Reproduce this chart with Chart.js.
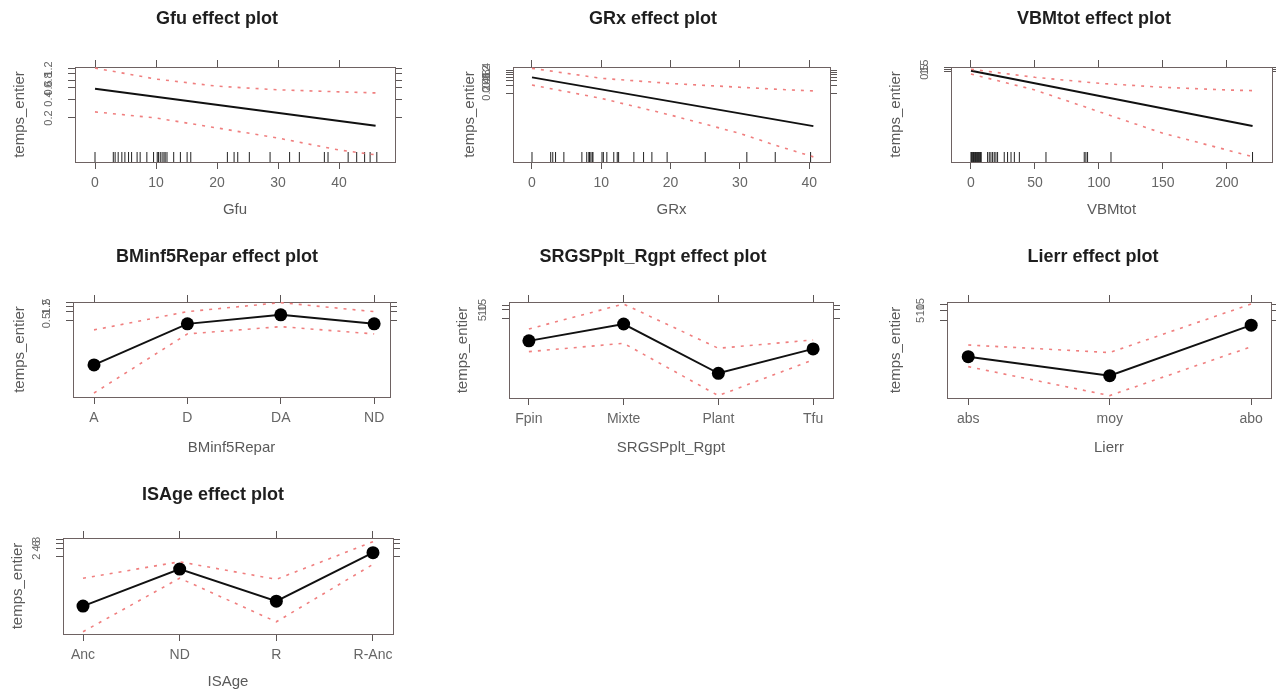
<!DOCTYPE html>
<html>
<head>
<meta charset="utf-8">
<title>Effect plots – temps_entier</title>
<script src="https://cdn.jsdelivr.net/npm/chart.js@4/dist/chart.umd.min.js"></script>
<style>
  html, body { margin: 0; padding: 0; background: #fff; overflow: hidden; width: 1276px; height: 691px; }
  .panel { position: absolute; }
  .panel canvas { display: block; }
</style>
</head>
<body>
<script>
// ---------- Gfu (continuous predictor) ----------
const gfuFitX   = [0, 46];
const gfuFit    = [0.58, 0.15];
const gfuBandX  = [0, 10, 20, 30, 40, 46];
const gfuUpper  = [1.24, 0.83, 0.64, 0.56, 0.52, 0.50];
const gfuLower  = [0.25, 0.20, 0.139, 0.096, 0.062, 0.052];
const gfuRug    = [0, 3.0, 3.3, 3.8, 4.4, 4.9, 5.5, 6.0, 6.9, 7.4, 8.5, 9.6, 10.2, 10.4, 10.7, 11.0,
                   11.3, 11.5, 11.8, 12.9, 14.0, 15.1, 15.7, 21.7, 22.8, 23.4, 25.3, 28.7, 31.9,
                   33.5, 37.6, 38.2, 41.5, 42.9, 44.2, 45.1, 46.2];
const gfuXTicks = [0, 10, 20, 30, 40];
const gfuYTicks = [0.2, 0.4, 0.6, 0.8, 1, 1.2];

// ---------- GRx (continuous predictor) ----------
const grxFitX   = [0, 40.6];
const grxFit    = [0.78, 0.0113];
const grxBandX  = [0, 10, 20, 30, 35, 40.6];
const grxUpper  = [1.71, 0.72, 0.46, 0.33, 0.28, 0.24];
const grxLower  = [0.40, 0.126, 0.0295, 0.0060, 0.0022, 0.00078];
const grxRug    = [0, 2.7, 3.0, 3.4, 4.6, 7.2, 7.9, 8.2, 8.3, 8.5, 8.7, 8.8, 10.1, 10.3, 10.8,
                   11.8, 12.3, 12.5, 14.7, 16.1, 17.3, 19.5, 25.0, 31.0, 35.1, 40.2];
const grxXTicks = [0, 10, 20, 30, 40];
const grxYTicks = [0.2, 0.4, 0.6, 0.8, 1, 1.2, 1.4];

// ---------- VBMtot (continuous predictor) ----------
const vbmFitX   = [0, 220];
const vbmFit    = [0.68, 1.75e-6];
const vbmBandX  = [0, 50, 100, 150, 200, 220];
const vbmUpper  = [0.94, 0.146, 0.036, 0.0142, 0.0076, 0.0065];
const vbmLower  = [0.31, 0.0076, 4.9e-5, 3.2e-7, 6.6e-9, 1.4e-9];
const vbmRug    = [0, 0.5, 1, 1.5, 2, 2.5, 3, 3.5, 4, 4.5, 5, 5.5, 6, 6.5, 7, 7.5, 8,
                   13.0, 14.3, 15.6, 16.9, 18.2, 19.5, 20.8, 26, 28.6, 31.3, 33.9, 37.8,
                   58.6, 88.5, 89.8, 91.1, 109.4, 220];
const vbmXTicks = [0, 50, 100, 150, 200];
const vbmYTicks = [0.5, 1, 1.5];

// ---------- BMinf5Repar (factor) ----------
const bmCats   = ['A', 'D', 'DA', 'ND'];
const bmFit    = [0.0165, 0.39, 0.78, 0.39];
const bmUpper  = [0.245, 1.0, 2.0, 1.0];
const bmLower  = [0.0019, 0.18, 0.315, 0.18];
const bmYTicks = [0.5, 1, 1.5, 2];

// ---------- SRGSPplt_Rgpt (factor) ----------
const srCats   = ['Fpin', 'Mixte', 'Plant', 'Tfu'];
const srFit    = [0.76, 3.1, 0.051, 0.39];
const srUpper  = [2.05, 16.4, 0.41, 0.82];
const srLower  = [0.31, 0.62, 0.0079, 0.155];
const srYTicks = [5, 10, 15];

// ---------- Lierr (factor) ----------
const liCats   = ['abs', 'moy', 'abo'];
const liFit    = [0.39, 0.104, 3.5];
const liUpper  = [0.88, 0.52, 15.2];
const liLower  = [0.195, 0.026, 0.78];
const liYTicks = [5, 10, 15];

// ---------- ISAge (factor) ----------
const isCats   = ['Anc', 'ND', 'R', 'R-Anc'];
const isFit    = [0.034, 0.72, 0.051, 2.8];
const isUpper  = [0.34, 1.32, 0.31, 6.9];
const isLower  = [0.0041, 0.34, 0.0093, 1.07];
const isYTicks = [2, 4, 6, 8];

const RESPONSE = 'temps_entier';
const FONT = '"Liberation Sans", Arial, Helvetica, sans-serif';

const idx = (arr) => arr.map((_, i) => i);

// Panel placement on the page (box = plotting region) and axis ranges.
const panels = [
  { name: 'Gfu', kind: 'num', box: {L: 75, T: 67, R: 395, B: 162}, titleX: 217, titleY: 19, yTitleX: 20, xTitleY: 210,
    xMin: -3.28, xMax: 49.18, yMin: 0.04, yMax: 1.29,
    fitX: gfuFitX, fit: gfuFit, bandX: gfuBandX, upper: gfuUpper, lower: gfuLower, rug: gfuRug,
    xTicks: gfuXTicks, yTicks: gfuYTicks },
  { name: 'GRx', kind: 'num', box: {L: 513, T: 67, R: 830, B: 162}, titleX: 653, titleY: 19, yTitleX: 470, xTitleY: 210,
    xMin: -2.74, xMax: 43.0, yMin: 0.0005, yMax: 1.92,
    fitX: grxFitX, fit: grxFit, bandX: grxBandX, upper: grxUpper, lower: grxLower, rug: grxRug,
    xTicks: grxXTicks, yTicks: grxYTicks },
  { name: 'VBMtot', kind: 'num', box: {L: 951, T: 67, R: 1272, B: 162}, titleX: 1094, titleY: 19, yTitleX: 896, xTitleY: 210,
    xMin: -15.6, xMax: 235.2, yMin: 4e-10, yMax: 1.6,
    fitX: vbmFitX, fit: vbmFit, bandX: vbmBandX, upper: vbmUpper, lower: vbmLower, rug: vbmRug,
    xTicks: vbmXTicks, yTicks: vbmYTicks },
  { name: 'BMinf5Repar', kind: 'cat', box: {L: 73, T: 302, R: 390, B: 397}, titleX: 217, titleY: 257, yTitleX: 20, xTitleY: 448,
    xMin: -0.225, xMax: 3.17, yMin: 0.0014, yMax: 2.1,
    cats: bmCats, fit: bmFit, upper: bmUpper, lower: bmLower, yTicks: bmYTicks },
  { name: 'SRGSPplt_Rgpt', kind: 'cat', box: {L: 509, T: 302, R: 833, B: 398}, titleX: 653, titleY: 257, yTitleX: 463, xTitleY: 448,
    xMin: -0.21, xMax: 3.21, yMin: 0.0065, yMax: 19.4,
    cats: srCats, fit: srFit, upper: srUpper, lower: srLower, yTicks: srYTicks },
  { name: 'Lierr', kind: 'cat', box: {L: 947, T: 302, R: 1271, B: 398}, titleX: 1093, titleY: 257, yTitleX: 896, xTitleY: 448,
    xMin: -0.15, xMax: 2.14, yMin: 0.022, yMax: 17.5,
    cats: liCats, fit: liFit, upper: liUpper, lower: liLower, yTicks: liYTicks },
  { name: 'ISAge', kind: 'cat', box: {L: 63, T: 538, R: 393, B: 634}, titleX: 213, titleY: 495, yTitleX: 18, xTitleY: 682,
    xMin: -0.207, xMax: 3.207, yMin: 0.0034, yMax: 9.4,
    cats: isCats, fit: isFit, upper: isUpper, lower: isLower, yTicks: isYTicks }
];

const BOX_COLOR  = '#6e6262';
const TICK_COLOR = '#5c5656';
const CI_COLOR   = '#f07f7f';

// Rotated response-scale labels on the left axis (bottom-to-top reading, as in lattice)
const yLabelPlugin = {
  id: 'rotatedYLabels',
  afterDraw(chart) {
    const s = chart.scales.y;
    const ctx = chart.ctx;
    ctx.save();
    ctx.fillStyle = '#666';
    ctx.font = '11px ' + FONT;
    ctx.textAlign = 'center';
    ctx.textBaseline = 'middle';
    s.ticks.forEach(t => {
      const py = s.getPixelForValue(t.value);
      ctx.save();
      ctx.translate(chart.chartArea.left - 26, py);
      ctx.rotate(-Math.PI / 2);
      ctx.fillText(String(t.value), 0, 0);
      ctx.restore();
    });
    ctx.restore();
  }
};

function axisGrid() {
  return { drawOnChartArea: false, drawTicks: true, tickLength: 7, color: TICK_COLOR, tickColor: TICK_COLOR, lineWidth: 1 };
}

function makePanel(p) {
  const TITLE_SIZE = 18, TITLE_LH = TITLE_SIZE * 1.2, TITLE_PAD_TOP = 4;
  const X2H = 10;
  const axisLeft = p.yTitleX - 9;
  const rightNeeded = p.box.R + 10;
  let canvasLeft = axisLeft;
  let canvasRight = 2 * p.titleX - axisLeft;
  let yTitlePad = 0;
  if (canvasRight < rightNeeded) {
    canvasRight = rightNeeded;
    canvasLeft = 2 * p.titleX - canvasRight;
    yTitlePad = axisLeft - canvasLeft;
  }
  const canvasTop = Math.round(p.titleY - TITLE_PAD_TOP - TITLE_LH / 2);
  const xH = p.xTitleY - p.box.B + 9;
  const W = Math.round(canvasRight - canvasLeft);
  const H = Math.round(p.box.B + xH - canvasTop);
  const yW = p.box.L - canvasLeft;
  const y2W = W - (p.box.R - canvasLeft);
  const titlePadBottom = p.box.T - canvasTop - TITLE_PAD_TOP - TITLE_LH - X2H;

  const wrap = document.createElement('div');
  wrap.className = 'panel';
  wrap.style.left = canvasLeft + 'px';
  wrap.style.top = canvasTop + 'px';
  wrap.style.width = W + 'px';
  wrap.style.height = H + 'px';
  const cv = document.createElement('canvas');
  cv.width = W; cv.height = H;
  cv.style.width = W + 'px'; cv.style.height = H + 'px';
  wrap.appendChild(cv);
  document.body.appendChild(wrap);

  const isCat = p.kind === 'cat';
  const xTicks = isCat ? idx(p.cats) : p.xTicks;
  const fitX = isCat ? idx(p.cats) : p.fitX;
  const bandX = isCat ? idx(p.cats) : p.bandX;
  const pts = (xs, ys) => xs.map((x, i) => ({ x: x, y: ys[i] }));

  const datasets = [
    { label: 'lower', data: pts(bandX, p.lower), showLine: true, borderColor: CI_COLOR, borderWidth: 1.6,
      borderDash: [3, 6], pointRadius: 0, tension: 0 },
    { label: 'upper', data: pts(bandX, p.upper), showLine: true, borderColor: CI_COLOR, borderWidth: 1.6,
      borderDash: [3, 6], pointRadius: 0, tension: 0 },
    { label: 'effect', data: pts(fitX, p.fit), showLine: true, borderColor: '#111', borderWidth: 2,
      pointRadius: isCat ? 6.5 : 0, pointBackgroundColor: '#000', pointBorderColor: '#000', pointBorderWidth: 0, tension: 0 }
  ];
  if (!isCat) {
    datasets.push({ label: 'rug', data: p.rug.map(v => ({ x: v, y: p.yMin })), showLine: false,
      pointStyle: 'dash', rotation: 270, pointRadius: 10, pointBorderColor: '#222', pointBorderWidth: 1, clip: false });
  }

  const setTicks = (vals) => (scale) => { scale.ticks = vals.map(v => ({ value: v })); };

  new Chart(cv, {
    type: 'scatter',
    data: { datasets },
    options: {
      responsive: false,
      animation: false,
      events: [],
      layout: { padding: 0 },
      plugins: {
        legend: { display: false },
        tooltip: { enabled: false },
        title: {
          display: true, text: p.name + ' effect plot', color: '#1e1e1e',
          font: { family: FONT, size: TITLE_SIZE, weight: 'bold', lineHeight: 1.2 },
          padding: { top: TITLE_PAD_TOP, bottom: titlePadBottom }
        }
      },
      scales: {
        x: {
          type: 'linear', position: 'bottom', min: p.xMin, max: p.xMax,
          afterBuildTicks: setTicks(xTicks),
          ticks: {
            autoSkip: false, maxRotation: 0, minRotation: 0, padding: 5.6, color: '#666',
            font: { family: FONT, size: 14 },
            callback: (v) => isCat ? p.cats[v] : String(v)
          },
          grid: axisGrid(),
          border: { display: true, color: BOX_COLOR, width: 1 },
          title: { display: true, text: p.name, color: '#5a5a5a', font: { family: FONT, size: 15 }, padding: { top: 0, bottom: 0 } },
          afterFit: (s) => { s.height = xH; }
        },
        x2: {
          type: 'linear', position: 'top', min: p.xMin, max: p.xMax,
          afterBuildTicks: setTicks(xTicks),
          ticks: { display: false },
          grid: axisGrid(),
          border: { display: true, color: BOX_COLOR, width: 1 },
          afterFit: (s) => { s.height = X2H; }
        },
        y: {
          type: 'logarithmic', position: 'left', min: p.yMin, max: p.yMax,
          afterBuildTicks: setTicks(p.yTicks),
          ticks: { display: false },
          grid: axisGrid(),
          border: { display: true, color: BOX_COLOR, width: 1 },
          title: { display: true, text: RESPONSE, color: '#5a5a5a', font: { family: FONT, size: 15 }, padding: { top: yTitlePad, bottom: 0 } },
          afterFit: (s) => { s.width = yW; }
        },
        y2: {
          type: 'logarithmic', position: 'right', min: p.yMin, max: p.yMax,
          afterBuildTicks: setTicks(p.yTicks),
          ticks: { display: false },
          grid: axisGrid(),
          border: { display: true, color: BOX_COLOR, width: 1 },
          afterFit: (s) => { s.width = y2W; }
        }
      }
    },
    plugins: [yLabelPlugin]
  });
}

panels.forEach(makePanel);
</script>
</body>
</html>
